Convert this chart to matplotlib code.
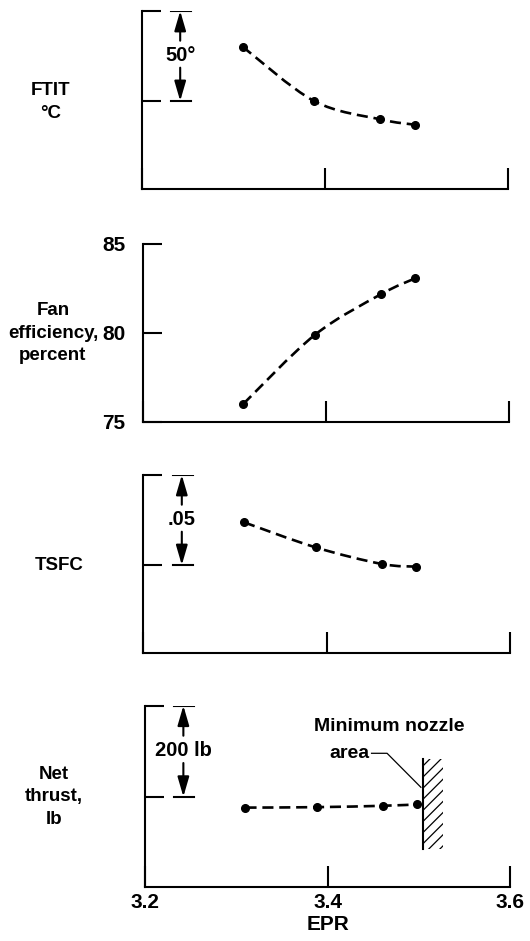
import numpy as np
import matplotlib
matplotlib.use('Agg')
import matplotlib.pyplot as plt
from matplotlib.path import Path
from matplotlib.patches import PathPatch, Rectangle

plt.rcParams['font.family'] = ['Liberation Sans', 'DejaVu Sans']
plt.rcParams['font.weight'] = 'bold'
plt.rcParams['hatch.linewidth'] = 0.9

# ---------------- data ----------------
epr = [3.31, 3.388, 3.46, 3.498]
ftit_rel = [30.2, 0.0, -10.2, -13.2]        # deg C relative to reference tick
fan_eff = [76.0, 79.87, 82.15, 83.06]        # percent
tsfc_rel = [0.0237, 0.0098, 0.0006, -0.0009] # relative to reference tick
thrust_rel = [-24.0, -23.0, -20.0, -17.0]    # lb relative to reference tick

x_ticks = [3.2, 3.4, 3.6]
x_ticklabels = ['3.2', '3.4', '3.6']
fan_ticks = [75, 80, 85]
fan_ticklabels = ['75', '80', '85']

ylabels = ['FTIT\n°C', 'Fan\nefficiency,\npercent', 'TSFC', 'Net\nthrust,\nlb']
scale_texts = ['50°', None, '.05', '200 lb']
scale_values = [50, None, 0.05, 200]
ylims = [(-49.1, 50), (75, 85), (-0.0487, 0.05), (-197.4, 200)]
series = [ftit_rel, fan_eff, tsfc_rel, thrust_rel]

nozzle_epr = 3.504
nozzle_span = (-115.7, 82.0)

# ---------------- layout ----------------
W, H = 530, 941
fig = plt.figure(figsize=(W / 100, H / 100), dpi=100)
fig.patch.set_facecolor('white')

panels_px = [(141.7, 508.3, 11, 189.3), (142.7, 508.7, 243.7, 421.7),
             (143.3, 510.0, 475, 652.7), (145.0, 510.4, 705.7, 886.5)]
ylabel_px = [(51, 102), (53, 333), (59, 565), (54, 797)]

LW = 1.5
FS_LABEL = 13.5
FS_TICK = 15


def smooth_path(x, y):
    pts = np.column_stack([x, y]).astype(float)
    ext = np.vstack([pts[0], pts, pts[-1]])
    verts = [pts[0]]
    codes = [Path.MOVETO]
    for i in range(len(pts) - 1):
        p0, p1, p2, p3 = ext[i], ext[i + 1], ext[i + 2], ext[i + 3]
        c1 = p1 + (p2 - p0) / 6.0
        c2 = p2 - (p3 - p1) / 6.0
        verts += [c1, c2, p2]
        codes += [Path.CURVE4] * 3
    return Path(verts, codes)


arrow_x = 3.242
bar_x = (3.232, 3.254)

for i, (l, r, t, b) in enumerate(panels_px):
    ax = fig.add_axes([l / W, 1 - b / H, (r - l) / W, (b - t) / H])
    ax.set_xlim(3.2, 3.6)
    ax.set_ylim(*ylims[i])
    for s in ['top', 'right']:
        ax.spines[s].set_visible(False)
    for s in ['left', 'bottom']:
        ax.spines[s].set_linewidth(LW)

    ax.set_xticks(x_ticks)
    ax.tick_params(axis='x', direction='in', length=15, width=LW, pad=5,
                   labelsize=FS_TICK)
    if i == 3:
        ax.set_xticklabels(x_ticklabels)
        ax.set_xlabel('EPR', fontsize=FS_TICK, fontweight='bold', labelpad=2)
    else:
        ax.tick_params(axis='x', labelbottom=False)

    if i == 1:
        ax.set_yticks(fan_ticks)
        ax.set_yticklabels(fan_ticklabels)
        ax.tick_params(axis='y', direction='in', length=13.5, width=LW,
                       pad=12.5, labelsize=FS_TICK)
    else:
        ax.set_yticks([0, scale_values[i]])
        ax.tick_params(axis='y', direction='in', length=13.5, width=LW,
                       labelleft=False)

    # curve and points
    patch = PathPatch(smooth_path(epr, series[i]), fill=False, lw=1.9,
                      edgecolor='black', linestyle=(0, (4.2, 2.2)))
    ax.add_patch(patch)
    ax.plot(epr, series[i], 'o', ms=5.5, color='black', zorder=5)

    # dimension arrow
    if scale_texts[i] is not None:
        sv = scale_values[i]
        ax.plot(bar_x, [0, 0], color='black', lw=LW)
        ax.plot(bar_x, [sv, sv], color='black', lw=LW)
        ap = dict(arrowstyle='-|>,head_length=1.2,head_width=0.35',
                  color='black', lw=LW, shrinkA=0, shrinkB=0,
                  mutation_scale=10)
        ax.annotate('', xy=(arrow_x, sv), xytext=(arrow_x, 0.67 * sv),
                    arrowprops=ap)
        ax.annotate('', xy=(arrow_x, 0), xytext=(arrow_x, 0.37 * sv),
                    arrowprops=ap)
        ax.text(arrow_x, 0.51 * sv, scale_texts[i], ha='center', va='center',
                fontsize=14.5, fontweight='bold')

    if i == 3:
        ax.plot([nozzle_epr, nozzle_epr], nozzle_span, color='black', lw=LW)
        ax.add_patch(Rectangle((nozzle_epr, nozzle_span[0]), 0.0226,
                               nozzle_span[1] - nozzle_span[0], fill=False,
                               hatch='///', lw=0, edgecolor='black'))
        ax.plot([3.448, 3.465, 3.502], [95.4, 95.4, 20.7], color='black',
                lw=0.9)
        ax.text(3.467, 155, 'Minimum nozzle', ha='center', va='center',
                fontsize=14, fontweight='bold')
        ax.text(3.446, 95, 'area', ha='right', va='center',
                fontsize=14, fontweight='bold')

    lx, ly = ylabel_px[i]
    fig.text(lx / W, 1 - ly / H, ylabels[i], ha='center', va='center',
             multialignment='center', fontsize=FS_LABEL, fontweight='bold',
             linespacing=1.45)

fig.savefig('out.png', dpi=100, facecolor='white')
